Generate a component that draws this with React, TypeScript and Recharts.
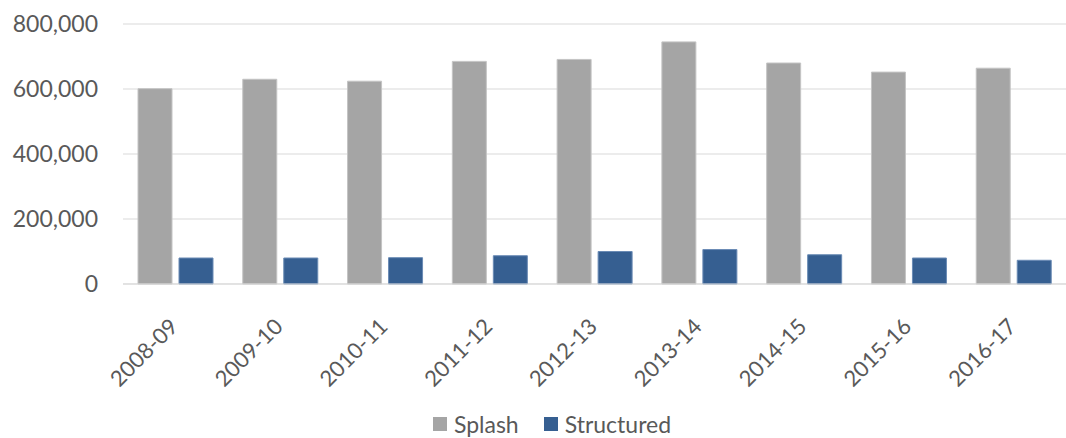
import React from 'react';
import { BarChart, Bar, XAxis, YAxis, CartesianGrid, Legend } from 'recharts';

const years = ['2008-09', '2009-10', '2010-11', '2011-12', '2012-13', '2013-14', '2014-15', '2015-16', '2016-17'];
const splash = [601000, 630000, 624000, 685000, 691000, 745000, 680000, 652000, 664000];
const structured = [80000, 80000, 81000, 87000, 100000, 106000, 90000, 80000, 73000];
const yTicks = [0, 200000, 400000, 600000, 800000];

const data = years.map((year, i) => ({ year, Splash: splash[i], Structured: structured[i] }));

const FONT = 'Lato, "Open Sans", sans-serif';
const TEXT = '#595959';
const GRAY = '#A5A5A5';
const BLUE = '#365F91';

if (typeof document !== 'undefined') document.body.style.margin = '0';

const YearTick = (props: any) => {
    const { x, y, payload } = props;
    return (
        <g transform={`translate(${x + 4},${y + 36})`}>
            <text textAnchor="end" transform="rotate(-45)" fill={TEXT} fontSize={22} fontFamily={FONT}>
                {payload.value}
            </text>
        </g>
    );
};

const renderLegend = () => (
    <div style={{ display: 'flex', justifyContent: 'center', paddingLeft: 38, fontFamily: FONT, fontSize: 23, lineHeight: '26px', color: TEXT }}>
        {[{ name: 'Splash', color: GRAY }, { name: 'Structured', color: BLUE }].map((item, i) => (
            <div key={item.name} style={{ display: 'flex', alignItems: 'center', marginLeft: i ? 25 : 0 }}>
                <span style={{ width: 14, height: 14, background: item.color, marginRight: 7, display: 'inline-block' }} />
                <span>{item.name}</span>
            </div>
        ))}
    </div>
);

export default function App() {
    return (
        <BarChart width={1066} height={438} data={data} margin={{ top: 24, right: 0, left: 0, bottom: 0 }} barSize={34} barGap={7}>
            <CartesianGrid vertical={false} stroke="#d9d9d9" />
            <XAxis
                dataKey="year"
                height={154}
                axisLine={{ stroke: '#d9d9d9' }}
                tickLine={false}
                interval={0}
                tick={<YearTick />}
            />
            <YAxis
                width={123}
                domain={[0, 800000]}
                ticks={yTicks}
                axisLine={false}
                tickLine={false}
                tickSize={0}
                tickMargin={25}
                tickFormatter={(v: number) => v.toLocaleString('en-US')}
                tick={{ fill: TEXT, fontSize: 23, fontFamily: FONT }}
            />
            <Legend
                layout="horizontal"
                verticalAlign="middle"
                align="center"
                content={renderLegend}
                wrapperStyle={{ top: 411, left: 0, width: 1066 }}
            />
            <Bar dataKey="Splash" fill={GRAY} stroke="#c4c4c4" strokeWidth={1} isAnimationActive={false} />
            <Bar dataKey="Structured" fill={BLUE} stroke="#6a8bb5" strokeWidth={1} isAnimationActive={false} />
        </BarChart>
    );
}
